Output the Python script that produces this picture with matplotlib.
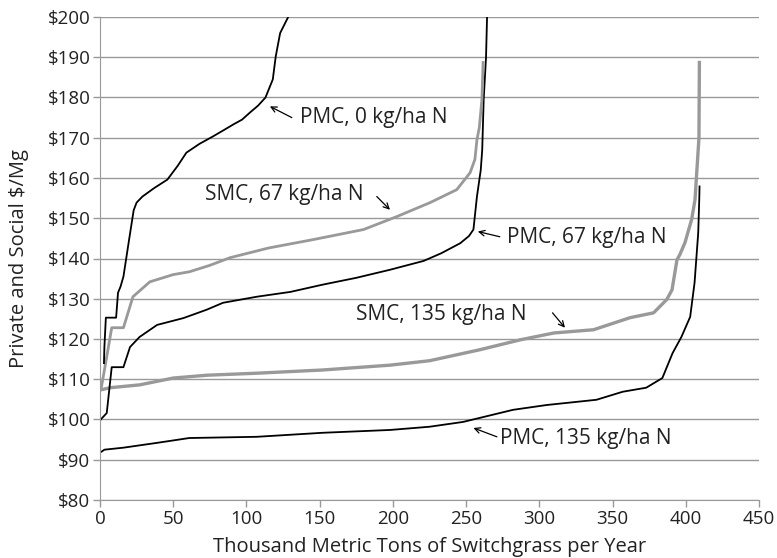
import numpy as np
import matplotlib
matplotlib.use('Agg')
import matplotlib.pyplot as plt

plt.rcParams['font.family'] = ['Open Sans', 'DejaVu Sans']

# traced supply curves (thousand metric tons, $/Mg)
pmc0_x = [2.7, 3.0, 4.0, 11.0, 12.3, 14, 16, 20, 23, 25, 29, 37, 46, 53, 59, 68, 77, 85, 91, 97,
          102.5, 108, 113, 118, 120, 123, 128.5]
pmc0_y = [114, 118, 125.3, 125.3, 131.5, 133, 135.5, 145, 152, 153.9, 155.4, 157.5, 159.6, 163,
          166.3, 168.5, 170.3, 172, 173.3, 174.5, 176.3, 178, 180, 184.5, 190.2, 196, 200]

smc67_x = [1, 4.6, 8, 16, 22.5, 34, 50, 61, 75, 88.8, 115, 145.6, 180, 202.6, 225.5, 243.6,
           252.7, 256, 257.4, 259, 260.8, 261.6]
smc67_y = [108.1, 115.6, 122.8, 122.8, 130.5, 134.2, 136, 136.7, 138.3, 140.2, 142.6, 144.7,
           147.2, 150.4, 153.9, 157.1, 161.3, 164.6, 169.5, 172.5, 179.5, 188.7]

pmc67_x = [0.5, 4.6, 8, 16, 20.5, 27, 39, 57, 73, 84, 107, 130, 152, 175, 198, 221, 233, 246,
           252, 255, 257.4, 260, 261, 262, 263.6, 264.3]
pmc67_y = [100, 101.6, 113, 113, 118, 120.5, 123.5, 125.2, 127.3, 129, 130.5, 131.7, 133.5,
           135.2, 137.2, 139.4, 141.3, 143.8, 145.6, 147.2, 155.4, 162, 167, 179.5, 190, 200]

smc135_x = [1, 7, 27, 50, 73, 107, 152, 198, 225, 259, 287, 310, 337, 362, 378, 387, 390.6,
            394, 396, 399.5, 404, 406.3, 407.6, 409, 409.3]
smc135_y = [107.4, 107.9, 108.6, 110.3, 111, 111.5, 112.3, 113.5, 114.6, 117.3, 119.8, 121.5,
            122.3, 125.3, 126.5, 129.8, 132.2, 139.7, 141, 144, 149.7, 154.6, 162, 170, 188.7]

pmc135_x = [1, 3, 16, 39, 61, 107, 152, 198, 225, 248, 282, 305, 339, 357, 373, 384, 391, 397,
            403, 406, 408.5, 409.2, 409.4]
pmc135_y = [92, 92.5, 93, 94.2, 95.4, 95.7, 96.7, 97.4, 98.2, 99.4, 102.4, 103.6, 104.9, 106.9,
            107.9, 110.3, 116.5, 120.5, 125.5, 134, 146.4, 154.6, 157.9]

# (label, text x, text y, arrow head x, arrow head y, arrow tail x, arrow tail y)
labels = [
    ('PMC, 0 kg/ha N', 136.6, 175, 116, 177.8, 131, 175),
    ('SMC, 67 kg/ha N', 71.7, 155.9, 198, 152.1, 189, 155.4),
    ('PMC, 67 kg/ha N', 278, 145.2, 258, 146.7, 273, 145.4),
    ('SMC, 135 kg/ha N', 175, 126, 317.5, 122.8, 309, 126.5),
    ('PMC, 135 kg/ha N', 273, 95.4, 255, 97.9, 271, 95.7),
]

fig = plt.figure(figsize=(7.77, 5.58), dpi=100)
ax = fig.add_axes([100 / 777, 58 / 558, 659 / 777, 483 / 558])

gray = '#999999'
ax.plot(pmc135_x, pmc135_y, color='black', lw=1.3)
ax.plot(smc135_x, smc135_y, color=gray, lw=2.4)
ax.plot(pmc67_x, pmc67_y, color='black', lw=1.3)
ax.plot(smc67_x, smc67_y, color=gray, lw=2.0)
ax.plot(pmc0_x, pmc0_y, color='black', lw=1.3)

for txt, tx, ty, hx, hy, sx, sy in labels:
    ax.text(tx, ty, txt, fontsize=15, color='#222222', va='center', ha='left')
    ax.annotate('', xy=(hx, hy), xytext=(sx, sy),
                arrowprops=dict(arrowstyle='->', color='black', lw=0.9,
                                shrinkA=0, shrinkB=0))

ax.set_xlim(0, 450)
ax.set_ylim(80, 200)
ax.set_xticks(range(0, 451, 50))
ax.set_yticks(range(80, 201, 10))
ax.set_yticklabels([f'${v}' for v in range(80, 201, 10)])
ax.yaxis.grid(True, color=gray, lw=1)
ax.set_axisbelow(True)
for s in ['top', 'right']:
    ax.spines[s].set_visible(False)
for s in ['left', 'bottom']:
    ax.spines[s].set_color(gray)
ax.tick_params(colors=gray, labelcolor='#222222', labelsize=13.5, length=5, width=1, pad=2)
ax.set_xlabel('Thousand Metric Tons of Switchgrass per Year', fontsize=14.5, color='#222222',
              labelpad=7)
ax.set_ylabel('Private and Social $/Mg', fontsize=14.5, color='#222222', labelpad=13)

fig.savefig('out.png', dpi=100)
